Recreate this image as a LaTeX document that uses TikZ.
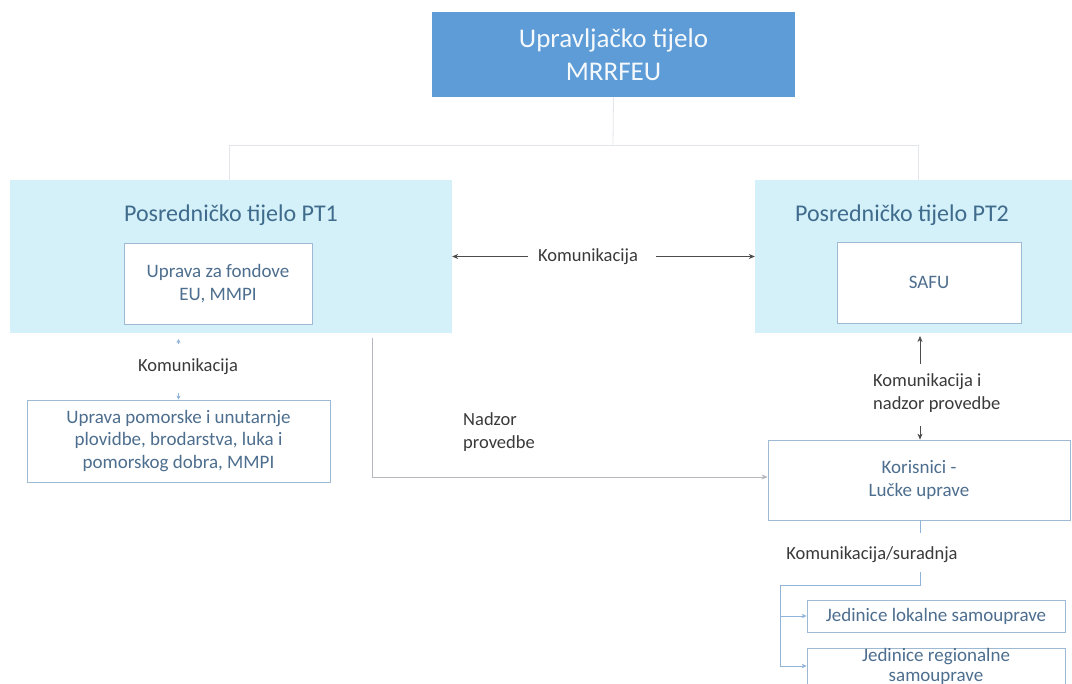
\documentclass[tikz,border=0pt]{standalone}
\usepackage{fontspec}
\setmainfont{Carlito}
\usetikzlibrary{arrows.meta}
\definecolor{topblue}{HTML}{5D9CD6}
\definecolor{ptcyan}{HTML}{D4F0F9}
\definecolor{boxline}{HTML}{9DB9D3}
\definecolor{boxtext}{HTML}{4D6E8E}
\definecolor{ptitle}{HTML}{3F6B8C}
\definecolor{labtext}{HTML}{3A3A3A}
\definecolor{faint}{HTML}{E2E6EA}
\definecolor{lgray}{HTML}{B4B8BE}
\definecolor{lblue}{HTML}{8FB3D9}
\begin{document}
\begin{tikzpicture}[x=1pt,y=-1pt,
  topbox/.style={fill=topblue,draw=none,minimum width=363pt,minimum height=85pt,text=white!94!topblue,font=\fontsize{27}{33}\selectfont,align=center,inner sep=0pt},
  ptbox/.style={fill=ptcyan,draw=none,minimum height=153pt,inner sep=0pt},
  ptlabel/.style={text=ptitle,font=\fontsize{24}{28}\selectfont,inner sep=0pt},
  whitebox/.style={fill=white,draw=boxline,line width=0.8pt,text=boxtext,align=center,inner sep=0pt,font=\fontsize{19}{22.5}\selectfont},
  lab/.style={text=labtext,font=\fontsize{18.5}{23}\selectfont,inner sep=0pt},
  darr/.style={draw=black!70,line width=0.6pt,-{Stealth[length=6pt,width=5pt]}},
  barr/.style={draw=lblue,line width=0.6pt,-{Stealth[length=4pt,width=4pt]}},
  garr/.style={draw=lgray,line width=0.7pt,-{Stealth[length=6pt,width=5pt]}},
  sarr/.style={draw=lblue,line width=0.7pt,-{Stealth[length=5pt,width=4.5pt]}},
  sline/.style={draw=lblue,line width=0.7pt},
  fline/.style={draw=faint,line width=0.8pt}
]
\useasboundingbox (0,0) rectangle (1072,684);
\clip (0,0) rectangle (1072,684);
\fill[white] (0,0) rectangle (1072,684);

% top box
\node[topbox] (top) at (613.5,54.5) {Upravljačko tijelo\\MRRFEU};

% PT boxes
\node[ptbox,minimum width=442pt] (pt1) at (231,256.5) {};
\node[ptbox,minimum width=335pt] (pt2) at (922.5,256.5) {};
\node[ptlabel] (pt1t) at (231,215) {Posredničko tijelo PT1};
\node[ptlabel] (pt2t) at (902,215) {Posredničko tijelo PT2};

\node[whitebox,minimum width=188pt,minimum height=81pt] (fond) at (218,283.5) {Uprava za fondove\\EU, MMPI};
\node[whitebox,minimum width=184pt,minimum height=81pt] (safu) at (929,282.5) {SAFU};

\node[whitebox,minimum width=303pt,minimum height=82pt] (upom) at (178.5,441) {Uprava pomorske i unutarnje\\plovidbe, brodarstva, luka i\\pomorskog dobra, MMPI};
\node[whitebox,minimum width=302pt,minimum height=80pt] (kor) at (919,480) {Korisnici -\\Lučke uprave};
\node[whitebox,minimum width=258pt,minimum height=32pt] (lok) at (936,616) {Jedinice lokalne samouprave};
\node[whitebox,minimum width=258pt,anchor=north,inner ysep=0pt,inner xsep=0pt,font=\fontsize{19}{20}\selectfont] (reg) at (936,647.5) {Jedinice regionalne\\samouprave};

% top connectors (faint)
\coordinate (tj) at (613,145);
\coordinate (tl) at (229,145);
\coordinate (tr) at (918,145);
\draw[fline] (top.south) -- (tj);
\draw[fline] (tl) -- (tr);
\draw[fline] (tl) -- (tl |- pt1.north);
\draw[fline] (tr) -- (tr |- pt2.north);

% Komunikacija between PT1 and PT2
\node[lab] (kom) at (588,256.5) {Komunikacija};
\draw[darr] ([xshift=-10pt]kom.west) -- (pt1.east);
\draw[darr] ([xshift=18pt]kom.east) -- (pt2.west);

% Komunikacija PT1 - Uprava pomorske
\node[lab] (kom1) at (188,367) {Komunikacija};
\coordinate (k1a) at (178.5,344);
\coordinate (k1b) at (178.5,393);
\draw[barr] (k1a) -- ++(0,-5);
\draw[barr] (k1b) -- (upom.north);

% Nadzor provedbe
\coordinate (nz) at (372,338);
\draw[garr] (nz) |- ([yshift=3pt]kor.west);
\node[lab,align=left,anchor=north west] (nad) at (463,412) {Nadzor\\provedbe};

% Komunikacija i nadzor provedbe
\node[lab,align=left,anchor=north west] (kin) at (873,373) {Komunikacija i\\nadzor provedbe};
\coordinate (s1) at (920,364);
\draw[darr] (s1) -- (920,336);
\coordinate (s2) at (920,426);
\draw[darr] (s2) -- (s2 |- kor.north);

% Komunikacija/suradnja
\node[lab] (ks) at (872,555) {Komunikacija/suradnja};
\coordinate (c1) at (920,533);
\coordinate (c2) at (920,572);
\coordinate (c3) at (920,585);
\coordinate (c4) at (780,585);
\coordinate (c5) at (780,666);
\draw[sline] (c1 |- kor.south) -- (c1);
\draw[sline] (c2) -- (c3) -- (c4) -- (c5);
\draw[sarr] (c4 |- lok.west) -- (lok.west);
\draw[sarr] (c5) -- (c5 -| reg.west);
\end{tikzpicture}
\end{document}
